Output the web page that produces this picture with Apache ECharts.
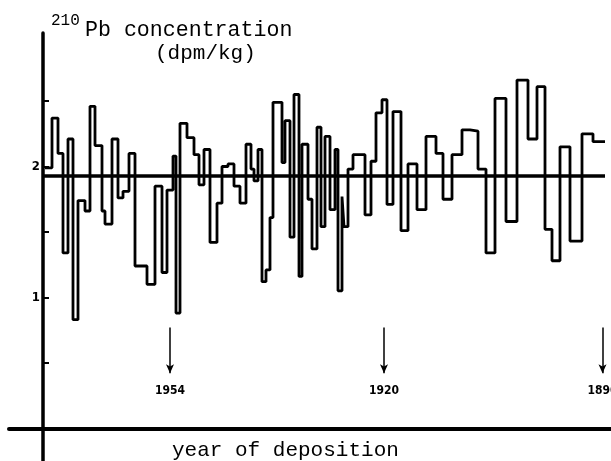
<!DOCTYPE html>
<html>
<head>
<meta charset="utf-8">
<script src="https://cdn.jsdelivr.net/npm/echarts@6/dist/echarts.min.js"></script>
<style>
html,body{margin:0;padding:0;background:#fff;}
#chart{width:611px;height:461px;}
</style>
</head>
<body>
<div id="chart"></div>
<script>
// depth position (arbitrary core-depth units) of the start of each sample
const sampleStart = [0.4,1.8,3.0,4.0,5.0,6.0,7.0,8.4,9.4,10.4,11.8,12.4,13.8,15.0,16.0,17.2,18.4,20.8,22.4,23.8,24.8,26.0,26.6,27.4,28.8,30.2,31.2,32.2,33.4,34.8,35.8,37.0,38.2,39.4,40.6,41.6,42.2,43.0,43.8,44.6,45.4,46.0,47.8,48.4,49.4,50.2,51.2,51.8,53.0,53.8,54.8,55.6,56.4,57.4,58.4,59.0,59.8,60.2,61.0,62.0,64.4,65.6,66.6,67.8,68.8,70.0,71.6,73.0,74.8,76.6,78.6,80.0,81.8,83.8,85.4,87.0,88.6,90.4,92.6,94.8,97.0,98.8,100.4,101.8,103.4,105.4,107.8,110.0];
const sampleEnd = 112.4;
// 210Pb concentration (dpm/kg) of each sample
const pbConc = [1.99,2.37,2.10,1.34,2.21,0.83,1.74,1.66,2.46,2.16,1.66,1.56,2.21,1.76,1.81,2.10,1.24,1.10,1.85,1.19,1.82,2.08,0.88,2.33,2.22,2.09,1.86,2.13,1.42,1.72,2.00,2.02,1.85,1.72,2.17,1.98,1.89,2.13,1.12,1.21,1.61,2.49,2.03,2.35,1.46,2.55,1.16,2.17,1.75,1.37,2.30,1.54,2.23,1.67,2.13,1.05,1.77,1.54,1.98,2.09,1.63,2.04,2.41,2.51,1.71,2.42,1.51,2.02,1.67,2.23,2.10,1.75,2.09,2.28,2.27,1.98,1.34,2.52,1.58,2.66,2.21,2.61,1.52,1.28,2.15,1.43,2.25,2.19];
const meanConc = 1.93;
// dated horizons
const yearLabels = ['1954','1920','1890'];
const yearDepth = [25.4, 68.2, 111.9];
const arrowTop = 0.77, arrowBottom = 0.42;
// y axis ticks / labels
const yTickValues = [0.5,1,1.5,2,2.5];
const yLabelValues = [1,2];

const stepData = sampleStart.map((d,i)=>[d,pbConc[i]]);
stepData.push([sampleEnd, pbConc[pbConc.length-1]]);

const mono = '"Liberation Mono", "DejaVu Sans Mono", monospace';
const cond = '"DejaVu Sans Condensed", "DejaVu Sans", sans-serif';

const markData = [
  [{coord:[0, meanConc], symbol:'none', lineStyle:{width:3.5,color:'#000',type:'solid'}, label:{show:false}},
   {coord:[sampleEnd, meanConc], symbol:'none'}]
];
yearLabels.forEach((y,i)=>{
  markData.push([
    {coord:[yearDepth[i], arrowTop], symbol:'none', lineStyle:{width:1.5,color:'#000',type:'solid'},
     label:{show:true, position:'end', formatter:y, distance:12, color:'#000', fontSize:12, fontWeight:'bold', fontFamily:cond}},
    {coord:[yearDepth[i], arrowBottom], symbol:'arrow', symbolSize:[6,9]}
  ]);
});

const chart = echarts.init(document.getElementById('chart'), null, {renderer:'canvas'});
chart.setOption({
  animation:false,
  backgroundColor:'#fff',
  grid:{left:9, right:0, top:33, bottom:0, containLabel:false},
  xAxis:{
    type:'value', min:-6.8, max:113.6,
    axisLine:{show:true, onZero:true, lineStyle:{color:'#000', width:4}},
    axisTick:{show:false}, axisLabel:{show:false}, splitLine:{show:false}
  },
  yAxis:{
    type:'value', min:-0.25, max:3.02, position:'left', offset:-34,
    axisLine:{show:true, onZero:false, lineStyle:{color:'#000', width:3.5}},
    axisTick:{show:true, inside:true, length:6, lineStyle:{color:'#000', width:2}, customValues:yTickValues},
    axisLabel:{show:true, margin:3, color:'#000', fontSize:13, fontWeight:'bold', fontFamily:cond, customValues:yLabelValues},
    splitLine:{show:false}
  },
  series:[{
    type:'line', step:'end', data:stepData, symbol:'none',
    lineStyle:{color:'#000', width:2.8},
    markLine:{silent:true, animation:false, symbol:['none','none'], data:markData}
  }],
  graphic:[
    {type:'text', left:51, top:13, style:{text:'210', font:'16px '+mono, fill:'#000'}},
    {type:'text', left:85, top:19, style:{text:'Pb concentration', font:'21.6px '+mono, fill:'#000'}},
    {type:'text', left:155, top:43, style:{text:'(dpm/kg)', font:'21px '+mono, fill:'#000'}},
    {type:'text', left:172, top:440, style:{text:'year of deposition', font:'21px '+mono, fill:'#000'}}
  ]
});
</script>
</body>
</html>
